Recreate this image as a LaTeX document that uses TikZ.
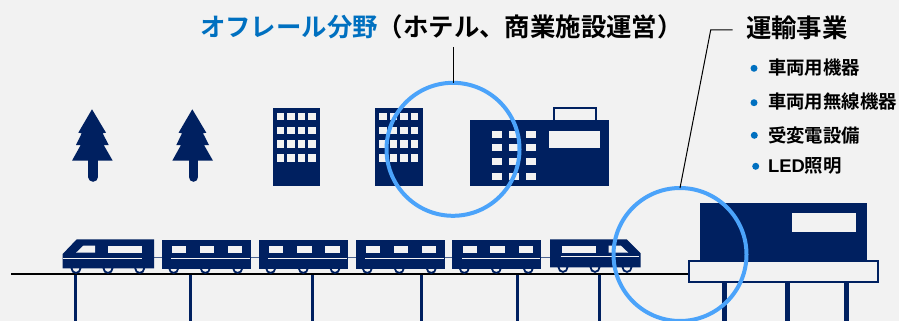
\documentclass[tikz,border=0pt]{standalone}
\usepackage{fontspec}
\setmainfont{Noto Sans CJK JP}[BoldFont={Noto Sans CJK JP Bold}]
\newfontfamily\latinbold{Liberation Sans}[BoldFont={Liberation Sans Bold}]
\definecolor{bgc}{HTML}{F2F2F2}
\definecolor{navy}{HTML}{002060}
\definecolor{titleblue}{HTML}{0070C0}
\definecolor{ringblue}{HTML}{4BA3FA}
\tikzset{
  solid navy/.style={fill=navy,draw=none},
  win/.style={fill=bgc,draw=none},
  headtext/.style={font=\fontsize{25.4}{28}\selectfont\bfseries,text=black,anchor=west,inner sep=0pt,outer sep=0pt},
  itemtext/.style={font=\fontsize{18.4}{22}\selectfont\bfseries,text=black,anchor=west,inner sep=0pt,outer sep=0pt},
  bulletdot/.style={circle,fill=titleblue,draw=none,minimum size=7pt,inner sep=0pt},
  ring/.style={circle,draw=ringblue,line width=4pt,minimum size=133pt,inner sep=0pt,outer sep=0pt},
  leader/.style={draw=black,line width=1pt},
  pylon/.style={draw=navy,line width=3pt},
  leg/.style={draw=navy,line width=5pt},
  wheel/.style={draw=navy,fill=bgc,line width=1.8pt},
  bandline/.style={draw=bgc,line width=1pt},
  coupler/.style={draw=navy!70,line width=1pt},
}
\newcommand{\carbody}[8]{% left, right, three window edges, three wheels
  \foreach \wh in {#6,#7,#8} \draw[wheel] (\wh,268.5) circle (4.4);
  \fill[navy] (#1,240) rectangle (#2,268.7);
  \foreach \wx in {#3,#4,#5} \fill[win] (\wx,246) rectangle ++(14.4,7.3);
  \draw[bandline] ({#3-0.7},258) -- ({#2-1},258);
}
\begin{document}
\begin{tikzpicture}[x=1pt,y=-1pt]
\useasboundingbox (0,0) rectangle (899,321);
\fill[bgc] (0,0) rectangle (899,321);

% trees
\foreach \dx in {0,100.3}{
\begin{scope}[xshift=\dx pt]
  \draw[navy,line width=9.6pt,line cap=round] (93.2,158) -- (93.2,177);
  \fill[navy] (92,109.3) -- (78.3,132.7) -- (81.7,133.3) -- (76,145) -- (80.7,145) -- (72,160.7)
     -- (112.7,160.7) -- (103.7,145) -- (108.7,145) -- (102.7,133.3) -- (106,132.7) -- cycle;
\end{scope}}

% office buildings
\foreach \bx in {272.7,375.3}{
  \fill[navy] (\bx,108) rectangle ++(47.2,77.5);
  \foreach \cx in {4,14.7,25,35.7} \foreach \ry in {112.8,126.5,140.3,154.4}
    \fill[win] ({\bx+\cx},\ry) rectangle ++(7.3,7.3);
}

% hotel
\draw[draw=navy,fill=bgc,line width=2pt] (554,108) rectangle (595.5,121);
\fill[navy] (470,120) rectangle (609.3,186.3);
\fill[win] (549,131) rectangle (600,147.7);
\foreach \cx in {492,509,526} \foreach \ry in {131.3,144.3,157.7,172.7}
  \fill[win] (\cx,\ry) rectangle ++(9.5,6.8);

% track
\draw[black,line width=2pt] (11,274) -- (690,274);

% pylons
\foreach \px in {75.7,190.7,312.3,421.7,517.7,599} \draw[pylon] (\px,275) -- (\px,321);

% couplers
\draw[coupler] (154,257.8) -- (162,257.8);
\draw[coupler] (251,257.8) -- (259,257.8);
\draw[coupler] (347.7,257.8) -- (356,257.8);
\draw[coupler] (445,257.8) -- (452,257.8);
\draw[coupler] (541,257.8) -- (550,257.8);

% front loco
\foreach \wh in {76,108,139.7} \draw[wheel] (\wh,268.5) circle (4.4);
\fill[navy] (76.7,239.3) -- (154,239.3) -- (154,268.3) -- (62.7,268.3) -- (62.7,254) -- cycle;
\fill[win] (76,252.7) -- (83.3,245.7) -- (95,245.7) -- (95,252.7) -- cycle;
\fill[win] (108.3,245.7) rectangle (142.3,252.7);
\draw[bandline] (62.7,258) -- (142.3,258);

% middle cars
\carbody{162}{251}{171.7}{199.5}{227.8}{173.7}{205.3}{237.7}
\carbody{259}{347.7}{269}{297.2}{325.3}{270.7}{303.3}{335}
\carbody{356}{445}{365.7}{393.7}{422}{367.3}{399.3}{431.3}
\carbody{452}{541}{462.7}{490.4}{518.7}{464.3}{496.3}{528.3}

% rear loco
\foreach \wh in {563,595,627} \draw[wheel] (\wh,267.5) circle (4.4);
\fill[navy] (550,239.3) -- (626.7,239.3) -- (640.7,253.3) -- (640.7,267.3) -- (550,267.3) -- cycle;
\fill[win] (562,245.5) rectangle (596,252.7);
\fill[win] (608.7,245.5) -- (620.7,245.5) -- (628.3,252.7) -- (608.7,252.7) -- cycle;
\draw[bandline] (560.7,256.7) -- (639.3,256.7);

% station
\foreach \lx in {724,787.3,846.7} \draw[leg] (\lx,282) -- (\lx,321);
\fill[navy] (700,202.7) rectangle (866.7,261);
\fill[win] (792,213) rectangle (856,232);
\draw[draw=navy,fill=bgc,line width=2pt] (689.3,261) rectangle (878.3,281.5);

% headings
\node[headtext] (offtitle) at (200,27) {\textcolor{titleblue}{オフレール分野}（ホテル、商業施設運営）};
\node[headtext] (unyutitle) at (746,28) {運輸事業};

% list
\node[bulletdot] (b1) at (754,68.3) {};
\node[bulletdot] (b2) at (754,102.7) {};
\node[bulletdot] (b3) at (754.3,135.3) {};
\node[bulletdot] (b4) at (755.7,166.3) {};
\node[itemtext] (i1) at (768,68) {車両用機器};
\node[itemtext] (i2) at (768,102) {車両用無線機器};
\node[itemtext] (i3) at (768,135) {受変電設備};
\node[itemtext] (i4) at (768,166) {{\latinbold\bfseries LED}照明};

% rings
\node[ring] (offring) at (453,149.3) {};
\node[ring] (railring) at (680,254.5) {};

% leaders
\coordinate (offtop) at (453,47);
\coordinate (railend) at (732.7,30);
\coordinate (railknee) at (710.7,30);
\draw[leader] (offtop) -- (offring.north);
\draw[leader] (railend) -- (railknee) -- (railring.north);
\end{tikzpicture}
\end{document}
